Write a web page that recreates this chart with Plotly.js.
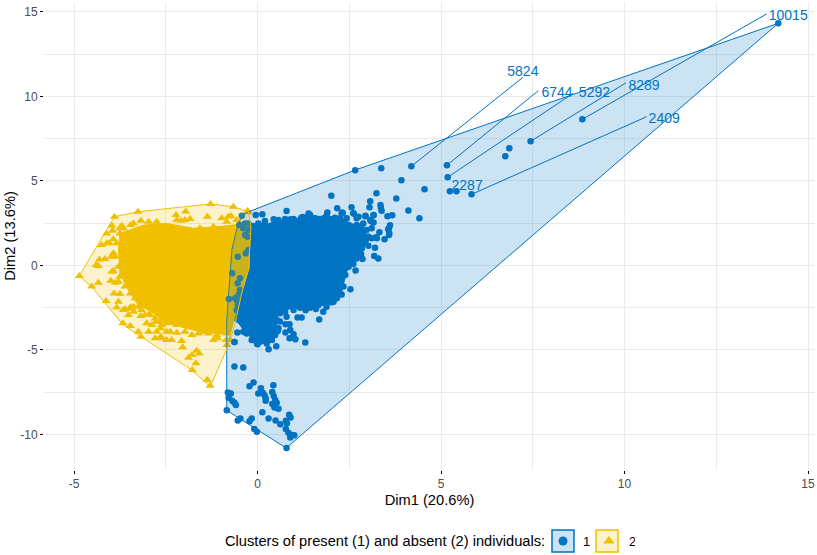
<!DOCTYPE html>
<html><head><meta charset="utf-8">
<script src="https://cdn.plot.ly/plotly-3.0.1.min.js"></script>
<style>html,body{margin:0;padding:0;background:#fff}#c{width:817px;height:555px}</style>
</head><body><div id="c"></div>
<script>
const blueHull=[[14.19,14.32],[0.78,-10.81],[-0.84,-8.58],[-0.84,-3.24],[-0.70,0.91],[-0.59,1.97],[-0.43,2.98],[-0.26,3.15],[2.66,5.64],[14.19,14.32]];
const yellowHull=[[-4.86,-0.63],[-3.90,2.88],[-3.25,3.17],[-1.29,3.63],[-0.66,3.47],[-0.25,3.17],[-0.18,2.28],[-0.25,-0.28],[-0.43,-1.64],[-0.61,-3.41],[-0.75,-4.52],[-1.29,-7.18],[-1.79,-6.2],[-3.2,-4.22],[-3.66,-3.53],[-4.52,-1.27],[-4.86,-0.63]];
const blueCore=[[-0.16,2.48],[0.30,2.48],[0.70,2.68],[1.25,2.82],[1.48,2.88],[1.84,2.78],[2.20,2.74],[2.57,2.48],[2.93,1.99],[3.04,1.50],[2.88,1.00],[2.79,0.61],[2.61,0.12],[2.43,-0.37],[2.38,-0.77],[2.29,-1.56],[2.20,-1.95],[1.93,-2.25],[1.61,-2.45],[1.29,-2.55],[0.93,-2.55],[0.57,-2.74],[0.52,-3.63],[0.43,-4.32],[0.20,-4.62],[-0.07,-4.52],[-0.34,-3.93],[-0.52,-3.43],[-0.8,-3.0],[-0.8,2.3],[-0.16,2.48]];
const yellowCore=[[-3.75,1.89],[-3.11,2.38],[-2.48,2.48],[-1.75,2.19],[-1.11,2.28],[-0.61,2.38],[-0.2,2.5],[-0.2,2.19],[-0.23,-0.18],[-0.48,-1.76],[-0.66,-3.33],[-0.75,-4.12],[-1.11,-4.03],[-1.57,-3.93],[-2.11,-3.63],[-2.48,-3.44],[-2.84,-2.84],[-3.29,-2.25],[-3.52,-1.46],[-3.75,-0.48],[-3.79,0.91],[-3.75,1.89]];
const bluePoints=[[14.19,14.32],[8.85,8.64],[7.44,7.34],[5.18,5.21],[5.16,5.92],[4.19,5.86],[5.83,4.20],[6.86,6.92],[6.75,6.45],[3.92,5.03],[4.55,4.50],[5.24,4.38],[5.42,4.38],[4.11,3.25],[4.41,2.78],
[3.37,5.74],[2.66,5.62],[3.24,4.26],[3.07,3.79],[3.05,3.43],[2.56,3.43],[3.78,3.96],[3.35,3.57],[3.36,3.4],[3.38,3.23],[3.54,2.90],[3.67,2.96],[3.16,2.96],[2.94,2.90],[2.61,3.08],[2.32,3.08],[3.61,2.37],[3.58,2.2],[3.59,1.89],[3.46,1.54],[3.32,1.95],[3.23,1.66],[3.11,2.19],[3.16,2.54],[3.07,2.68],
[0.79,3.21],[2.01,4.12],[1.43,2.98],[1.90,3.13],[2.17,3.37],[2.31,3.13],[2.62,3.07],[2.75,2.88],[2.94,2.94],[3.16,2.98],[3.09,2.62],[2.88,2.48],[3.56,2.13],[3.58,1.79],[3.25,1.6],[3.11,1.6],[3.2,1.04],[3.02,1.16],[3.18,0.55],[3.29,0.41],[2.86,0.37],[2.79,0.71],[2.61,0.08],[2.67,-0.30],[2.53,-1.42],[2.29,-1.72],[1.79,-2.74],[1.59,-2.59],[1.31,-2.66],[1.09,-3.08],[1.20,-3.08],[1.68,-3.20],[0.79,-3.04],[0.76,-3.49],[0.87,-3.49],[0.89,-3.83],[0.76,-3.97],[0.98,-4.08],[0.87,-4.32],[1.03,-4.38],[1.30,-4.56],[0.51,-4.79],[0.30,-4.97],[0.54,-3.26],[0.55,-3.89],[0.0,-4.67],[-0.55,-3.97],[-0.63,-4.54],
[-0.05,2.98],[0.13,3.02],[0.44,2.72],[0.75,2.74],[0.9,2.72],[1.11,2.54],[1.23,2.86],[1.29,2.82],[1.57,2.78],[1.80,2.78],[1.98,2.74],[2.25,2.78],[2.34,2.58],[2.48,2.38],[2.52,2.19],[2.7,2.38],[2.84,1.99],[2.2,-1.17],[2.39,-0.57],[2.11,-1.17],[2.07,-2.15],[1.88,-2.45],
[0.02,2.48],[0.2,2.62],[0.57,2.68],[0.98,2.74],[1.19,2.82],[1.39,3.07],[1.49,2.82],[1.66,2.74],[1.88,2.94],[2.11,2.82],[2.29,3.07],[2.43,2.78],[2.70,2.78],[2.82,2.29],[2.97,2.09],[3.02,1.69],[2.93,1.40],[2.84,1.0],[2.82,0.65],[2.70,0.41],[2.57,0.12],[2.48,-0.08],[2.38,-0.57],[2.27,-0.87],[2.34,-1.26],[2.25,-1.66],[2.16,-1.95],[2.02,-2.19],[1.84,-2.25],[1.66,-2.35],[1.43,-2.51],[1.16,-2.51],[0.98,-2.64],[0.75,-2.74],[0.61,-2.84],[0.61,-3.33],[0.57,-3.73],[0.48,-4.12],[0.39,-4.42],[0.25,-4.62],[0.07,-4.52],[-0.02,-4.62],[-0.16,-4.42],[-0.3,-4.03],[-0.39,-3.93],
[-0.63,-5.98],[-0.39,-6.04],[-0.22,-7.16],[-0.11,-6.93],[0.43,-7.10],[0.09,-7.28],[0.02,-7.58],[0.14,-7.54],[0.19,-7.68],[0.22,-7.87],[0.22,-8.01],[0.40,-7.50],[0.44,-7.73],[0.48,-7.97],[0.52,-8.13],[0.40,-8.21],[0.46,-8.41],[0.57,-8.49],[-0.81,-7.52],[-0.73,-7.58],[-0.79,-7.83],[-0.69,-8.01],[-0.63,-8.13],[-0.59,-8.27],[-0.84,-8.58],[0.13,-8.70],[0.30,-9.06],[0.49,-9.18],[0.62,-9.41],[0.77,-9.19],[0.86,-8.84],[0.90,-9.0],[0.80,-9.35],[-0.47,-9.06],[-0.54,-9.18],[-0.16,-9.06],[-0.22,-9.23],[-0.09,-9.69],[-0.02,-9.85],[0.77,-9.69],[0.84,-9.90],[0.89,-10.18],[1.00,-10.06],[0.95,-10.04],[0.79,-10.81]];
const yellowPoints=[[-3.90,2.88],[-3.26,3.17],[-1.28,3.63],[-0.66,3.47],[-0.25,3.13],[-2.22,2.98],[-1.96,3.18],[-3.18,2.64],[-2.08,2.64],[-1.84,2.74],[-1.37,2.88],[-0.98,2.78],[-0.73,2.92],[-3.97,2.34],[-4.11,1.89],[-3.95,2.05],[-3.70,2.34],[-3.46,2.38],[-4.25,1.2],[-4.11,1.3],[-4.04,1.3],[-3.93,0.71],[-3.99,0.51],[-4.16,0.37],[-4.31,0.35],[-4.4,0.02],[-4.34,-0.04],[-3.93,-0.34],[-4.86,-0.63],[-4.34,-1.03],[-4.52,-1.26],[-4.0,-0.91],[-3.88,-1.03],[-3.79,-0.97],[-3.91,-1.66],[-3.75,-1.7],[-4.13,-2.11],[-3.79,-2.15],[-3.84,-2.49],[-3.61,-2.59],[-3.47,-2.49],[-3.38,-2.74],[-3.18,-3],[-3.67,-3.43],[-3.47,-3.59],[-3.25,-3.93],[-3.18,-4.22],[-2.97,-2.94],[-3.02,-3.43],[-2.77,-3.34],[-2.64,-3.73],[-2.97,-3.93],[-2.64,-4.22],[-2.52,-3.43],[-2.38,-3.93],[-2.34,-4.42],[-2.2,-3.99],[-2.07,-4.48],[-2.04,-4.85],[-1.61,-4.03],[-1.2,-4.42],[-1.09,-4.32],[-1.66,-5.05],[-1.59,-5.21],[-1.79,-5.31],[-1.88,-5.47],[-1.68,-5.8],[-1.78,-6.2],[-1.37,-6.79],[-1.29,-7.12],[-0.84,-4.72],[-0.75,-4.42],[-0.27,3.23],[-0.8,2.88],
[-3.66,2.19],[-3.75,1.89],[-3.84,1.3],[-3.66,0.51],[-3.79,-0.08],[-3.75,-0.67],[-3.61,-1.26],[-3.47,-1.66],[-3.34,-1.95],[-3.16,-2.05],[-3.38,-2.45],[-3.16,-2.64],[-2.93,-2.94],[-2.79,-3.14],[-2.66,-3.34],[-2.43,-3.14],[-2.29,-3.34],[-2.11,-3.04],[-1.93,-3.53],[-1.75,-3.43],[-1.48,-3.93],[-1.29,-3.83],[-1.02,-3.93],[-0.84,-4.03],[-3.38,2.48],[-2.97,2.58],[-2.75,2.58],[-2.2,2.68],[-1.98,2.68],[-1.57,2.19],[-1.2,2.28],[-0.84,2.58],[-0.57,2.68],
[-3.66,-2.65],[-3.52,-2.94],[-3.43,-2.55],[-3.25,-2.45],[-3.07,-2.94],[-2.88,-3.53],[-2.75,-3.93],[-2.61,-3.53],[-2.48,-3.93],[-2.79,-4.32],[-2.61,-4.32],[-2.48,-4.42],[-2.2,-3.53],[-1.98,-3.93],[-1.79,-4.12],[-1.34,-4.03],[-1.11,-4.12],[-0.86,-4.42],[-3.75,2.19],[-3.93,1.54],[-3.88,0.51],[-3.97,-0.38]];
const blueOverlap=[[-0.43,2.94],[-0.34,2.48],[-0.25,2.48],[-0.39,2.19],[-0.25,2.09],[-0.27,1.69],[-0.5,2.38],[-0.34,1.79],[-0.32,0.71],[-0.25,0.91],[-0.54,0.51],[-0.69,-0.47],[-0.54,-1.06],[-0.48,-0.77],[-0.78,-1.99],[-0.57,-2.05],[-0.54,-2.35],[-0.57,-2.64],[-0.61,-1.95],[-0.63,-4.54],[-0.52,-1.76],[-0.48,-1.46]];
const labelNames=['10015','5824','6744','5292','8289','2409','2287'];
const labelX=[14.46,7.23,8.16,9.18,10.53,11.08,5.71];
const labelY=[14.72,11.39,10.15,10.15,10.57,8.61,4.67];
const segments=[[[8.85,8.64],[13.87,14.87]],[[7.44,7.34],[10.04,10.80]],[[5.18,5.21],[8.60,10.18]],[[5.16,5.92],[7.65,10.33]],[[4.19,5.86],[7.23,11.12]],[[5.83,4.20],[10.60,8.79]]];
const BLUE='#0073C2',YEL='#EFC000';
const xs=a=>a.map(p=>p[0]), ys=a=>a.map(p=>p[1]);
const segX=[],segY=[];segments.forEach(s=>{segX.push(s[0][0],s[1][0],null);segY.push(s[0][1],s[1][1],null)});
const F='"Liberation Sans",Arial,sans-serif';
const traces=[
{x:xs(blueCore),y:ys(blueCore),mode:'lines',fill:'toself',fillcolor:BLUE,line:{color:BLUE,width:1},showlegend:false,hoverinfo:'skip'},
{x:xs(bluePoints),y:ys(bluePoints),mode:'markers',marker:{color:BLUE,size:6.5,symbol:'circle'},showlegend:false,hoverinfo:'skip'},
{x:xs(yellowCore),y:ys(yellowCore),mode:'lines',fill:'toself',fillcolor:YEL,line:{color:YEL,width:1},showlegend:false,hoverinfo:'skip'},
{x:xs(yellowPoints),y:ys(yellowPoints),mode:'markers',marker:{color:YEL,size:8,symbol:'triangle-up'},showlegend:false,hoverinfo:'skip'},
{x:xs(blueOverlap),y:ys(blueOverlap),mode:'markers',marker:{color:BLUE,size:6.5},showlegend:false,hoverinfo:'skip'},
{x:xs(blueHull),y:ys(blueHull),mode:'lines',fill:'toself',fillcolor:'rgba(0,115,194,0.2)',line:{color:BLUE,width:1},showlegend:false,hoverinfo:'skip'},
{x:xs(yellowHull),y:ys(yellowHull),mode:'lines',fill:'toself',fillcolor:'rgba(239,192,0,0.2)',line:{color:YEL,width:1},showlegend:false,hoverinfo:'skip'},
{x:segX,y:segY,mode:'lines',line:{color:BLUE,width:1},showlegend:false,hoverinfo:'skip'},
{x:labelX,y:labelY,text:labelNames,mode:'text',textposition:'middle center',textfont:{color:BLUE,size:14,family:F},showlegend:false,hoverinfo:'skip'},
{x:[null],y:[null],mode:'markers',name:'1',marker:{color:BLUE,size:9,symbol:'circle'}},
{x:[null],y:[null],mode:'markers',name:'2',marker:{color:YEL,size:10,symbol:'triangle-up'}}
];
const L=44,T=2,W=771,H=468;
const px=v=>(v-L)/W, py=v=>(T+H-v)/H;
const keyBox=(a,b,c,f)=>({type:'rect',xref:'paper',yref:'paper',x0:px(a),x1:px(b),y0:py(530),y1:py(552),line:{color:c,width:1.5},fillcolor:f,layer:'below'});
const layout={
 width:817,height:555,margin:{l:L,r:2,t:T,b:85,autoexpand:false},paper_bgcolor:'#fff',plot_bgcolor:'#fff',
 font:{family:F,color:'#000'},
 xaxis:{range:[-5.82,15.19],tickvals:[-5,0,5,10,15],ticktext:['-5','0','5','10','15'],showgrid:true,gridcolor:'#ebebeb',gridwidth:1,zeroline:false,showline:false,
  ticks:'outside',ticklen:3,tickcolor:'#000',tickwidth:1,tickfont:{size:12,color:'#4d4d4d'},
  minor:{tickvals:[-2.5,2.5,7.5,12.5],showgrid:true,gridcolor:'#ebebeb',gridwidth:1,ticks:''},
  title:{text:'Dim1 (20.6%)',font:{size:14.67,color:'#000'},standoff:4}},
 yaxis:{range:[-12.11,15.58],tickvals:[-10,-5,0,5,10,15],ticktext:['-10','-5','0','5','10','15'],showgrid:true,gridcolor:'#ebebeb',gridwidth:1,zeroline:false,showline:false,
  ticks:'outside',ticklen:3,tickcolor:'#000',tickwidth:1,tickfont:{size:12,color:'#4d4d4d'},
  minor:{tickvals:[-7.5,-2.5,2.5,7.5,12.5],showgrid:true,gridcolor:'#ebebeb',gridwidth:1,ticks:''},
  title:{text:'Dim2 (13.6%)',font:{size:14.67,color:'#000'},standoff:1}},
 legend:{orientation:'h',x:px(543),xanchor:'left',y:py(541),yanchor:'middle',bgcolor:'rgba(0,0,0,0)',
  font:{size:13,color:'#000'},itemwidth:30,entrywidth:1,entrywidthmode:'pixels',itemclick:false,itemdoubleclick:false},
 annotations:[{xref:'paper',yref:'paper',x:px(224),y:py(541),xanchor:'left',yanchor:'middle',showarrow:false,text:'Clusters of present (1) and absent (2) individuals:',font:{size:14.67,color:'#000'},xshift:-1}],
 shapes:[keyBox(552,574,BLUE,'rgba(0,115,194,0.2)'),keyBox(596,618,YEL,'rgba(239,192,0,0.2)')],
 hovermode:false
};
Plotly.newPlot('c',traces,layout,{displayModeBar:false});
</script></body></html>
